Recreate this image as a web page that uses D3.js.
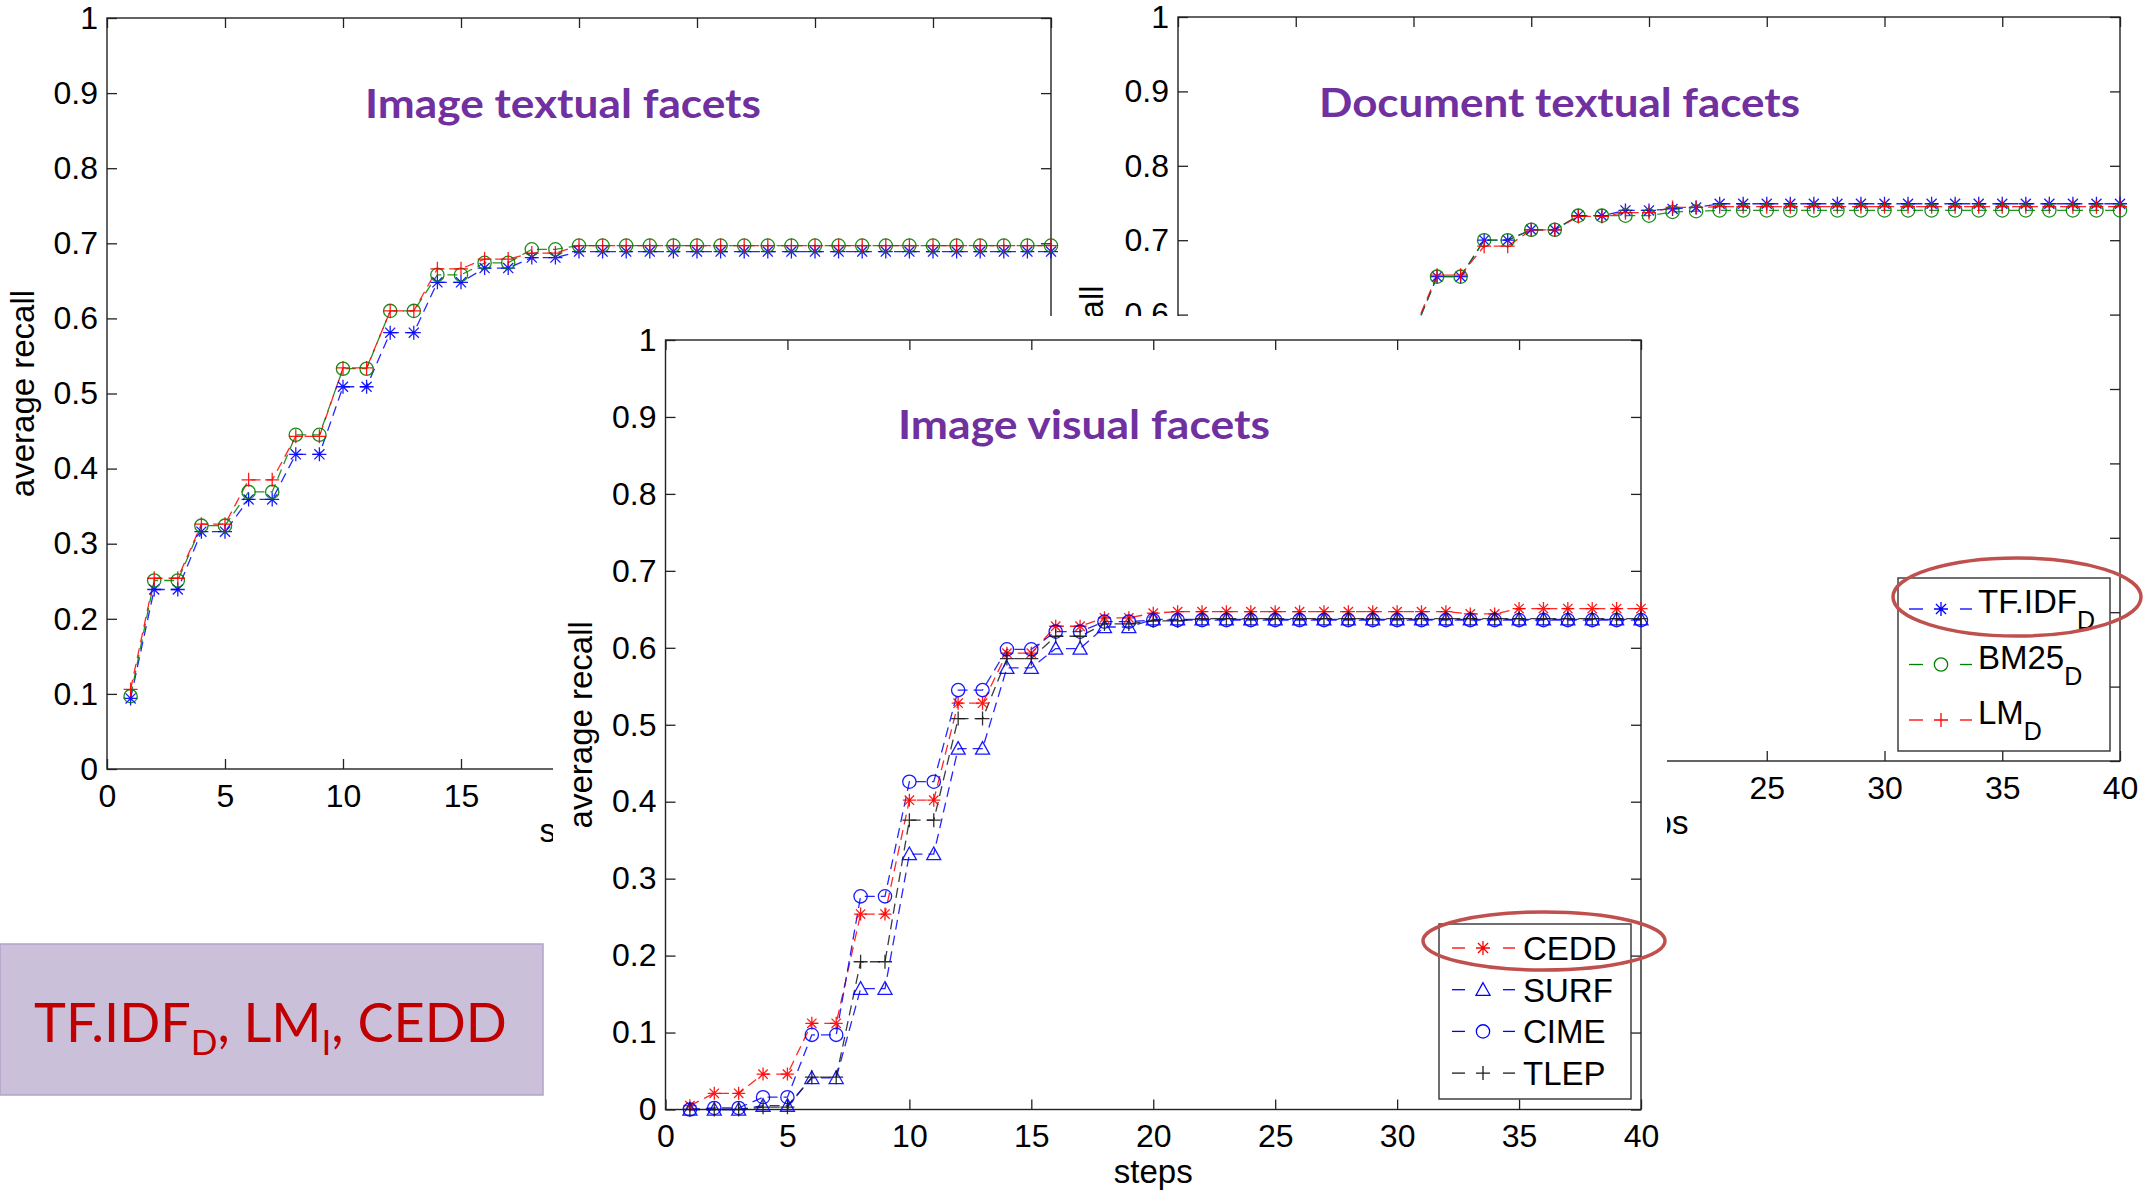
<!DOCTYPE html>
<html>
<head>
<meta charset="utf-8">
<script src="https://cdn.jsdelivr.net/npm/d3@7"></script>
<style>
  html, body { margin: 0; padding: 0; background: #fff; }
  svg { display: block; }
</style>
</head>
<body>
<svg id="fig" width="2144" height="1191"></svg>
<script>
// ---- shared axis data ----
const steps = [1,2,3,4,5,6,7,8,9,10,11,12,13,14,15,16,17,18,19,20,21,22,23,24,25,26,27,28,29,30,31,32,33,34,35,36,37,38,39,40];
const xTicks = [0, 5, 10, 15, 20, 25, 30, 35, 40];
const xTickLabels = ["0", "5", "10", "15", "20", "25", "30", "35", "40"];
const yTicks = [0, 0.1, 0.2, 0.3, 0.4, 0.5, 0.6, 0.7, 0.8, 0.9, 1];
const yTickLabels = ["0", "0.1", "0.2", "0.3", "0.4", "0.5", "0.6", "0.7", "0.8", "0.9", "1"];

// ---- Image textual facets ----
const imgTfidf = [0.094,0.239,0.239,0.316,0.316,0.359,0.359,0.419,0.419,0.509,0.509,0.581,0.581,0.648,0.648,0.667,0.667,0.681,0.681,0.689,0.689,0.689,0.689,0.689,0.689,0.689,0.689,0.689,0.689,0.689,0.689,0.689,0.689,0.689,0.689,0.689,0.689,0.689,0.689,0.689];
const imgBm25 = [0.097,0.251,0.251,0.324,0.324,0.369,0.369,0.445,0.445,0.533,0.533,0.610,0.610,0.658,0.658,0.674,0.674,0.692,0.692,0.697,0.697,0.697,0.697,0.697,0.697,0.697,0.697,0.697,0.697,0.697,0.697,0.697,0.697,0.697,0.697,0.697,0.697,0.697,0.697,0.697];
const imgLm = [0.106,0.254,0.254,0.326,0.326,0.385,0.385,0.443,0.443,0.534,0.534,0.610,0.610,0.666,0.666,0.679,0.679,0.687,0.687,0.697,0.697,0.697,0.697,0.697,0.697,0.697,0.697,0.697,0.697,0.697,0.697,0.697,0.697,0.697,0.697,0.697,0.697,0.697,0.697,0.697];

// ---- Document textual facets ----
const docTfidf = [0.110,0.230,0.340,0.340,0.430,0.430,0.510,0.510,0.575,0.575,0.651,0.651,0.700,0.700,0.714,0.714,0.733,0.733,0.740,0.740,0.742,0.744,0.749,0.749,0.749,0.749,0.749,0.749,0.749,0.749,0.749,0.749,0.749,0.749,0.749,0.749,0.749,0.749,0.749,0.749];
const docBm25 = [0.110,0.230,0.340,0.340,0.430,0.430,0.510,0.510,0.575,0.575,0.651,0.651,0.700,0.700,0.714,0.714,0.733,0.733,0.733,0.733,0.738,0.739,0.740,0.740,0.740,0.740,0.740,0.740,0.740,0.740,0.740,0.740,0.740,0.740,0.740,0.740,0.740,0.740,0.740,0.740];
const docLm = [0.112,0.232,0.338,0.338,0.428,0.428,0.512,0.512,0.578,0.578,0.653,0.653,0.692,0.692,0.714,0.714,0.732,0.732,0.737,0.737,0.744,0.744,0.745,0.745,0.745,0.745,0.745,0.745,0.745,0.745,0.745,0.745,0.745,0.745,0.745,0.745,0.745,0.745,0.745,0.745];

// ---- Image visual facets ----
const visCedd = [0.005,0.021,0.021,0.046,0.046,0.112,0.112,0.254,0.254,0.402,0.402,0.528,0.528,0.593,0.593,0.628,0.628,0.639,0.639,0.645,0.647,0.647,0.647,0.647,0.647,0.647,0.647,0.647,0.647,0.647,0.647,0.647,0.644,0.644,0.651,0.651,0.651,0.651,0.651,0.651];
const visSurf = [0.000,0.000,0.000,0.005,0.005,0.041,0.041,0.157,0.157,0.332,0.332,0.469,0.469,0.574,0.574,0.599,0.599,0.627,0.627,0.637,0.637,0.637,0.637,0.637,0.637,0.637,0.637,0.637,0.637,0.637,0.637,0.637,0.637,0.637,0.637,0.637,0.637,0.637,0.637,0.637];
const visCime = [0.000,0.002,0.002,0.016,0.016,0.097,0.097,0.277,0.277,0.426,0.426,0.545,0.545,0.598,0.598,0.621,0.621,0.634,0.634,0.636,0.636,0.636,0.636,0.636,0.636,0.636,0.636,0.636,0.636,0.636,0.636,0.636,0.636,0.636,0.636,0.636,0.636,0.636,0.636,0.636];
const visTlep = [0.000,0.000,0.000,0.003,0.003,0.042,0.042,0.192,0.192,0.376,0.376,0.508,0.508,0.586,0.586,0.615,0.615,0.631,0.631,0.635,0.635,0.638,0.638,0.638,0.638,0.638,0.638,0.638,0.638,0.638,0.638,0.638,0.638,0.638,0.638,0.638,0.638,0.638,0.638,0.638];

// ---- series names / legend text ----
const titles = ["Image textual facets", "Document textual facets", "Image visual facets"];
const docNames = ["TF.IDF", "BM25", "LM"];
const docSubs = ["D", "D", "D"];
const visNames = ["CEDD", "SURF", "CIME", "TLEP"];
const boxParts = [["TF.IDF", false], ["D", true], [", LM", false], ["I", true], [", CEDD", false]];

// ---- styling ----
const AXIS_FONT = "'Liberation Sans', Arial, Helvetica, sans-serif";
const TITLE_FONT = "Lato, 'Open Sans', sans-serif";
const C = { blue: "#0000ff", green: "#008000", red: "#ff0000", black: "#1a1a1a" };

const svg = d3.select("#fig");

// marker glyphs (MATLAB-like)
function markerPath(type, s) {
  const h = s / 2, d = h * 0.72;
  switch (type) {
    case "+": return `M${-h},0H${h}M0,${-h}V${h}`;
    case "*": return `M${-h},0H${h}M0,${-h}V${h}M${-d},${-d}L${d},${d}M${-d},${d}L${d},${-d}`;
    case "o": return d3.symbol(d3.symbolCircle, Math.PI * (h * 0.95) ** 2)();
    case "^": return `M0,${-h}L${h},${h * 0.8}L${-h},${h * 0.8}Z`;
  }
}

function drawChart(box, series, title, titleBox, ylabelX) {
  const g = svg.append("g");
  const x = d3.scaleLinear().domain([0, 40]).range([box.left, box.right]);
  const y = d3.scaleLinear().domain([0, 1]).range([box.bottom, box.top]);

  if (box.bg) {
    g.append("rect").attr("x", box.bg[0]).attr("y", box.bg[1])
      .attr("width", box.bg[2]).attr("height", box.bg[3]).attr("fill", "#fff");
  }

  const styleAxis = (sel) => {
    sel.select(".domain").remove();
    sel.attr("font-family", AXIS_FONT).attr("font-size", 32);
    sel.selectAll(".tick line").attr("stroke", "#222").attr("stroke-width", 1.3);
    sel.selectAll(".tick text").attr("fill", "#000");
  };

  g.append("g").attr("transform", `translate(0,${box.bottom})`)
    .call(d3.axisBottom(x).tickValues(xTicks).tickSize(-10).tickPadding(15)
      .tickFormat((d, i) => xTickLabels[i]))
    .call(styleAxis);
  g.append("g").attr("transform", `translate(0,${box.top})`)
    .call(d3.axisTop(x).tickValues(xTicks).tickSize(-10).tickFormat(""))
    .call(styleAxis);
  g.append("g").attr("transform", `translate(${box.left},0)`)
    .call(d3.axisLeft(y).tickValues(yTicks).tickSize(-10).tickPadding(9)
      .tickFormat((d, i) => yTickLabels[i]))
    .call(styleAxis);
  g.append("g").attr("transform", `translate(${box.right},0)`)
    .call(d3.axisRight(y).tickValues(yTicks).tickSize(-10).tickFormat(""))
    .call(styleAxis);

  g.append("rect")
    .attr("x", box.left).attr("y", box.top)
    .attr("width", box.right - box.left).attr("height", box.bottom - box.top)
    .attr("fill", "none").attr("stroke", "#222").attr("stroke-width", 1.4);

  // axis labels
  g.append("text")
    .attr("transform", `translate(${ylabelX},${(box.top + box.bottom) / 2}) rotate(-90)`)
    .attr("text-anchor", "middle").attr("font-family", AXIS_FONT).attr("font-size", 33)
    .text("average recall");
  g.append("text")
    .attr("x", (box.left + box.right) / 2).attr("y", box.bottom + 73)
    .attr("text-anchor", "middle").attr("font-family", AXIS_FONT).attr("font-size", 33)
    .text("steps");

  // series: dashed line + markers
  const line = d3.line().x((d, i) => x(steps[i])).y(d => y(d));
  series.forEach(s => {
    g.append("path").datum(s.values)
      .attr("d", line).attr("fill", "none")
      .attr("stroke", s.color).attr("stroke-width", 1.3)
      .attr("stroke-dasharray", "10,6").attr("opacity", 0.85);
  });
  series.forEach(s => {
    g.append("g").selectAll("path").data(s.values).join("path")
      .attr("transform", (d, i) => `translate(${x(steps[i])},${y(d)})`)
      .attr("d", markerPath(s.marker, s.size || 14))
      .attr("fill", "none").attr("stroke", s.color).attr("stroke-width", 1.3)
      .attr("opacity", 0.9);
  });

  // chart title
  g.append("text")
    .attr("x", titleBox.x).attr("y", titleBox.y)
    .attr("font-family", TITLE_FONT).attr("font-weight", 700).attr("font-size", 40)
    .attr("fill", "#7030a0")
    .attr("textLength", titleBox.w).attr("lengthAdjust", "spacingAndGlyphs")
    .text(title);
  return { g, x, y };
}

function drawLegend(lg) {
  const g = svg.append("g");
  g.append("rect").attr("x", lg.box[0]).attr("y", lg.box[1])
    .attr("width", lg.box[2]).attr("height", lg.box[3])
    .attr("fill", "#fff").attr("stroke", "#333").attr("stroke-width", 1.4);
  lg.entries.forEach((e, i) => {
    const by = lg.y0 + i * lg.dy;
    const my = by - lg.mOff;
    g.append("line").attr("x1", lg.seg[0]).attr("x2", lg.seg[1]).attr("y1", my).attr("y2", my)
      .attr("stroke", e.color).attr("stroke-width", 1.3);
    g.append("line").attr("x1", lg.seg[2]).attr("x2", lg.seg[3]).attr("y1", my).attr("y2", my)
      .attr("stroke", e.color).attr("stroke-width", 1.3);
    g.append("path").attr("transform", `translate(${lg.mx},${my})`)
      .attr("d", markerPath(e.marker, 14))
      .attr("fill", "none").attr("stroke", e.color).attr("stroke-width", 1.3);
    const t = g.append("text").attr("x", lg.tx).attr("y", by)
      .attr("font-family", AXIS_FONT).attr("font-size", 33).attr("fill", "#000");
    t.append("tspan").text(e.name);
    if (e.sub) t.append("tspan").attr("font-size", 25).attr("dy", 16).text(e.sub);
  });
}

// ---- top-left: Image textual facets ----
drawChart(
  { left: 107, right: 1051, top: 18, bottom: 769 },
  [
    { values: imgTfidf, color: C.blue, marker: "*" },
    { values: imgBm25, color: C.green, marker: "o" },
    { values: imgLm, color: C.red, marker: "+" }
  ],
  titles[0], { x: 365, y: 118, w: 396 }, 34
);

// ---- top-right: Document textual facets ----
drawChart(
  { left: 1178, right: 2120, top: 17, bottom: 761 },
  [
    { values: docTfidf, color: C.blue, marker: "*" },
    { values: docBm25, color: C.green, marker: "o" },
    { values: docLm, color: C.red, marker: "+" }
  ],
  titles[1], { x: 1319, y: 117, w: 481 }, 1103
);
drawLegend({
  box: [1898, 578, 212, 173], y0: 613, dy: 55.5, mOff: 4,
  seg: [1909, 1923, 1960, 1972], mx: 1941, tx: 1978,
  entries: docNames.map((n, i) => ({
    name: n, sub: docSubs[i],
    color: [C.blue, C.green, C.red][i], marker: ["*", "o", "+"][i]
  }))
});

// ---- front: Image visual facets (opaque panel over the other two) ----
drawChart(
  { left: 665.5, right: 1641, top: 340, bottom: 1109.5, bg: [553, 316, 1114, 875] },
  [
    { values: visCedd, color: C.red, marker: "*", size: 13 },
    { values: visSurf, color: C.blue, marker: "^", size: 14 },
    { values: visCime, color: C.blue, marker: "o", size: 14 },
    { values: visTlep, color: C.black, marker: "+", size: 14 }
  ],
  titles[2], { x: 898, y: 439, w: 372 }, 592
);
drawLegend({
  box: [1439, 924, 192, 175], y0: 960, dy: 41.7, mOff: 12,
  seg: [1452, 1465, 1503, 1515], mx: 1483, tx: 1523,
  entries: visNames.map((n, i) => ({
    name: n, sub: null,
    color: [C.red, C.blue, C.blue, C.black][i], marker: ["*", "^", "o", "+"][i]
  }))
});

// ---- highlight ellipses ----
svg.append("ellipse").attr("cx", 2017).attr("cy", 597).attr("rx", 124).attr("ry", 39)
  .attr("fill", "none").attr("stroke", "#c0504d").attr("stroke-width", 3.5);
svg.append("ellipse").attr("cx", 1544).attr("cy", 941).attr("rx", 121).attr("ry", 29)
  .attr("fill", "none").attr("stroke", "#c0504d").attr("stroke-width", 3.5);

// ---- summary box ----
svg.append("rect").attr("x", 0).attr("y", 944).attr("width", 543).attr("height", 151)
  .attr("fill", "#cbc0da").attr("stroke", "#b3a2c7").attr("stroke-width", 1.5);
const boxText = svg.append("text").attr("x", 34).attr("y", 1042)
  .attr("font-family", TITLE_FONT).attr("font-size", 56).attr("fill", "#c00000");
let lowered = false;
boxParts.forEach(([txt, sub]) => {
  const ts = boxText.append("tspan").text(txt);
  if (sub) { ts.attr("font-size", "0.65em").attr("dy", "0.38em"); lowered = true; }
  else if (lowered) { ts.attr("dy", "-0.247em"); lowered = false; }
});
// scale the font so the line spans the box's text width
const bw = boxText.node().getComputedTextLength();
boxText.attr("font-size", 56 * 473 / bw);
</script>
</body>
</html>
